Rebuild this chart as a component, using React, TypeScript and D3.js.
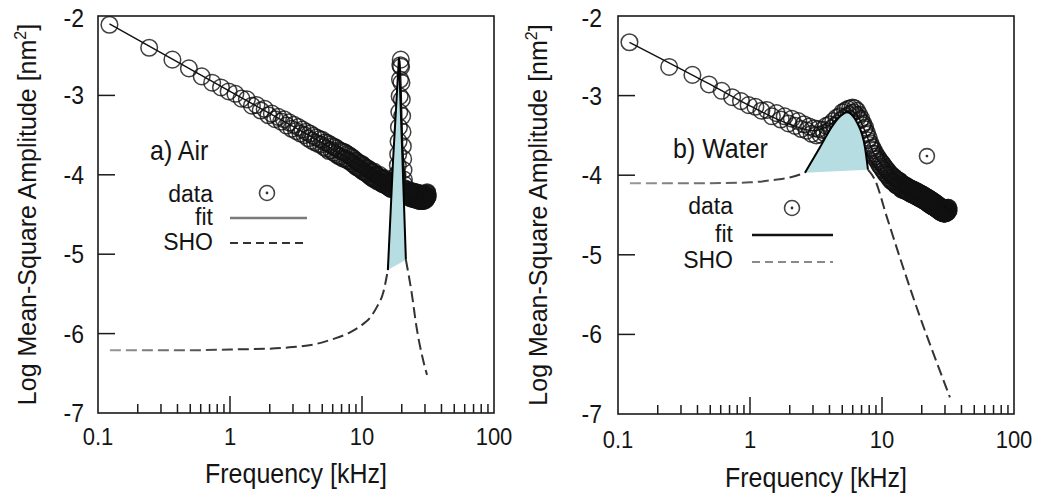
import React from 'react';
import * as d3 from 'd3';

// ---------- data ----------
const BIN_KHZ = 0.1221; // spectral bin width of the measured spectrum (kHz)

const AIR_VALUES = [
  -2.11, -2.40, -2.55, -2.66, -2.76, -2.84, -2.90, -2.95, -2.98, -3.04,
  -3.05, -3.13, -3.12, -3.19, -3.17, -3.25, -3.23, -3.30, -3.27, -3.33,
  -3.30, -3.38, -3.34, -3.42, -3.37, -3.45, -3.40, -3.48, -3.43, -3.50,
  -3.46, -3.54, -3.48, -3.57, -3.51, -3.59, -3.53, -3.61, -3.55, -3.62,
  -3.56, -3.65, -3.59, -3.67, -3.60, -3.70, -3.62, -3.69, -3.64, -3.72,
  -3.65, -3.74, -3.67, -3.76, -3.69, -3.77, -3.70, -3.79, -3.71, -3.80,
  -3.72, -3.80, -3.74, -3.82, -3.75, -3.83, -3.77, -3.85, -3.78, -3.86,
  -3.80, -3.88, -3.82, -3.90, -3.83, -3.91, -3.85, -3.92, -3.86, -3.93,
  -3.86, -3.95, -3.88, -3.96, -3.89, -3.97, -3.91, -3.98, -3.92, -3.99,
  -3.92, -4.00, -3.94, -4.02, -3.95, -4.03, -3.96, -4.04, -3.97, -4.05,
  -3.96, -4.05, -3.99, -4.06, -4.00, -4.08, -4.01, -4.07, -4.02, -4.09,
  -4.00, -4.09, -4.03, -4.10, -4.04, -4.11, -4.05, -4.12, -4.06, -4.11,
  -4.04, -4.12, -4.06, -4.13, -4.08, -4.14, -4.09, -4.15, -4.10, -4.15,
  -4.08, -4.16, -4.10, -4.17, -4.11, -4.18, -4.12, -4.17, -4.11, -4.18,
  -4.10, -4.16, -4.09, -4.15, -4.08, -4.14, -4.07, -4.12, -4.05, -4.09,
  -4.00, -3.99, -3.88, -3.74, -3.58, -3.40, -3.21, -3.01, -2.80, -2.62,
  -2.55, -2.64, -2.84, -3.05, -3.26, -3.46, -3.64, -3.80, -3.94, -4.06,
  -4.12, -4.18, -4.17, -4.22, -4.19, -4.24, -4.21, -4.26, -4.22, -4.27,
  -4.19, -4.26, -4.21, -4.28, -4.20, -4.27, -4.22, -4.29, -4.21, -4.28,
  -4.20, -4.27, -4.23, -4.30, -4.21, -4.28, -4.22, -4.30, -4.23, -4.29,
  -4.21, -4.28, -4.24, -4.31, -4.22, -4.29, -4.23, -4.31, -4.24, -4.30,
  -4.22, -4.29, -4.25, -4.32, -4.23, -4.30, -4.24, -4.32, -4.25, -4.31,
  -4.23, -4.30, -4.25, -4.33, -4.24, -4.31, -4.25, -4.33, -4.26, -4.32,
  -4.24, -4.31, -4.26, -4.33, -4.25, -4.32, -4.26, -4.33, -4.27, -4.32,
  -4.25, -4.31, -4.26, -4.32, -4.25, -4.31, -4.26, -4.32, -4.25, -4.30,
  -4.24, -4.30, -4.23, -4.29, -4.22, -4.28, -4.24, -4.27,
];

const WATER_VALUES = [
  -2.33, -2.64, -2.74, -2.86, -2.94, -3.02, -3.07, -3.12, -3.14, -3.19,
  -3.18, -3.26, -3.22, -3.30, -3.26, -3.35, -3.29, -3.38, -3.32, -3.42,
  -3.36, -3.44, -3.39, -3.48, -3.41, -3.50, -3.42, -3.49, -3.43, -3.47,
  -3.38, -3.45, -3.36, -3.41, -3.32, -3.38, -3.28, -3.35, -3.26, -3.31,
  -3.21, -3.28, -3.19, -3.26, -3.17, -3.24, -3.16, -3.22, -3.15, -3.21,
  -3.16, -3.24, -3.19, -3.27, -3.24, -3.31, -3.29, -3.37, -3.35, -3.42,
  -3.40, -3.49, -3.47, -3.56, -3.53, -3.62, -3.60, -3.67, -3.65, -3.73,
  -3.69, -3.77, -3.73, -3.80, -3.76, -3.83, -3.79, -3.87, -3.82, -3.89,
  -3.84, -3.92, -3.86, -3.94, -3.89, -3.97, -3.91, -3.99, -3.93, -4.00,
  -3.95, -4.03, -3.97, -4.05, -3.99, -4.07, -4.00, -4.08, -4.02, -4.09,
  -4.02, -4.10, -4.04, -4.12, -4.05, -4.13, -4.06, -4.13, -4.07, -4.14,
  -4.07, -4.15, -4.09, -4.17, -4.10, -4.18, -4.11, -4.18, -4.12, -4.19,
  -4.12, -4.19, -4.13, -4.20, -4.14, -4.20, -4.14, -4.21, -4.15, -4.21,
  -4.16, -4.22, -4.16, -4.23, -4.17, -4.23, -4.17, -4.24, -4.18, -4.24,
  -4.18, -4.25, -4.19, -4.25, -4.19, -4.26, -4.20, -4.26, -4.20, -4.27,
  -4.21, -4.27, -4.21, -4.28, -4.22, -4.28, -4.22, -4.29, -4.23, -4.29,
  -4.23, -4.30, -4.24, -4.30, -4.24, -4.31, -4.25, -4.31, -4.25, -4.32,
  -4.26, -4.32, -4.26, -4.33, -4.27, -4.33, -4.27, -4.34, -4.28, -4.34,
  -4.28, -4.35, -4.29, -4.36, -4.29, -4.36, -4.30, -4.37, -4.30, -4.37,
  -4.31, -4.38, -4.31, -4.38, -4.32, -4.39, -4.32, -4.39, -4.33, -4.39,
  -4.33, -4.40, -4.34, -4.40, -4.34, -4.41, -4.35, -4.41, -4.35, -4.42,
  -4.36, -4.42, -4.36, -4.43, -4.37, -4.43, -4.37, -4.44, -4.38, -4.44,
  -4.38, -4.45, -4.39, -4.45, -4.39, -4.46, -4.40, -4.46, -4.40, -4.46,
  -4.41, -4.47, -4.41, -4.47, -4.42, -4.47, -4.42, -4.48, -4.42, -4.48,
  -4.42, -4.48, -4.43, -4.48, -4.43, -4.48, -4.43, -4.48, -4.43, -4.47,
  -4.42, -4.47, -4.42, -4.47, -4.42, -4.46, -4.42, -4.46, -4.41, -4.45,
  -4.41, -4.44,
];

// fit curves [kHz, log MSA]
const AIR_FIT: [number, number][] = [
  [0.1221, -2.10], [1, -2.95], [5, -3.60], [10, -3.90], [15, -4.06], [17.5, -4.05],
  [18.6, -3.60], [19.4, -2.56], [20.3, -3.60], [21.6, -4.12], [24, -4.22], [31.5, -4.27],
];
const WATER_FIT: [number, number][] = [
  [0.1221, -2.33], [0.5, -2.86], [1, -3.13], [2, -3.36], [3, -3.44], [4, -3.37],
  [5, -3.24], [5.8, -3.19], [6.5, -3.25], [7.5, -3.46], [8.5, -3.70], [10, -3.88],
  [14, -4.13], [20, -4.27], [32, -4.43],
];

// SHO curves [kHz, log MSA]
const AIR_SHO: [number, number][] = [
  [0.123, -6.21], [0.5, -6.21], [1, -6.20], [2, -6.19], [3, -6.17], [4.5, -6.13],
  [6, -6.07], [8, -5.99], [10, -5.89], [11.5, -5.80], [13, -5.66], [14.5, -5.48],
  [15.7, -5.20], [17.2, -3.81], [19.06, -2.52], [21.5, -5.07], [23.8, -5.49],
  [25.9, -5.92], [29, -6.33], [31.1, -6.52],
];
const AIR_FILL_RANGE = [15.7, 21.5];

const WATER_SHO: [number, number][] = [
  [0.123, -4.10], [0.5, -4.10], [1, -4.09], [1.5, -4.06], [2, -4.03], [2.61, -3.97],
  [3.39, -3.65], [4.25, -3.37], [4.9, -3.25], [5.43, -3.21], [5.9, -3.24],
  [6.47, -3.34], [7.43, -3.65], [7.83, -3.93], [8.85, -4.06], [10.9, -4.53],
  [14.4, -5.15], [19.4, -5.78], [26.1, -6.36], [32.7, -6.79],
];
const WATER_FILL_RANGE = [2.61, 7.83];

const WATER_EXTRA_POINT: [number, number] = [21.9, -3.76];

const X_TICKS = [0.1, 1, 10, 100];
const X_TICK_LABELS = ['0.1', '1', '10', '100'];
const X_MINOR = [0.2, 0.3, 0.4, 0.5, 0.6, 0.7, 0.8, 0.9, 2, 3, 4, 5, 6, 7, 8, 9, 20, 30, 40, 50, 60, 70, 80, 90];
const Y_TICKS = [-2, -3, -4, -5, -6, -7];
const Y_TICK_LABELS = ['-2', '-3', '-4', '-5', '-6', '-7'];

const X_TITLE = 'Frequency [kHz]';
const LEGEND_LABELS = ['data', 'fit', 'SHO'];

// ---------- layout ----------
const FONT = '"Liberation Sans", Arial, Helvetica, sans-serif';
const TEXT = '#141414';
const FILL = '#b6dee2';

const PANELS = [
  {
    id: 'air', x0: 98, x1: 494, y0: 16, y1: 413,
    values: AIR_VALUES, fit: AIR_FIT, sho: AIR_SHO, fillRange: AIR_FILL_RANGE,
    solidCurve: d3.curveLinear,
    ytickX: 84, xtickY: 445, xtitleY: 483, ytitleX: 36,
    title: 'a) Air', titleX: 150, titleY: 160,
    legX: 213, legY: [202, 225, 250], markX: 267, markY: 193,
    lineX: [230, 307], lineY: [218, 243],
    fitLegendColor: '#7a7a7a', shoLegendColor: '#333',
    extra: null as null | [number, number],
  },
  {
    id: 'water', x0: 618, x1: 1014, y0: 16, y1: 414,
    values: WATER_VALUES, fit: WATER_FIT, sho: WATER_SHO, fillRange: WATER_FILL_RANGE,
    solidCurve: d3.curveMonotoneX,
    ytickX: 602, xtickY: 448, xtitleY: 487, ytitleX: 547,
    title: 'b) Water', titleX: 673, titleY: 158,
    legX: 733, legY: [214, 242, 268], markX: 792, markY: 208,
    lineX: [752, 833], lineY: [235, 262],
    fitLegendColor: '#111', shoLegendColor: '#8a8a8a',
    extra: WATER_EXTRA_POINT as null | [number, number],
  },
];

function Txt({ x, y, anchor = 'start', size = 23, sy = 1.1, children }: any) {
  return (
    <text transform={`translate(${x},${y}) scale(1,${sy})`} textAnchor={anchor}
      fontSize={size} fontFamily={FONT} fill={TEXT}>{children}</text>
  );
}

function Marker({ cx, cy }: { cx: number; cy: number }) {
  return (
    <g>
      <circle cx={cx} cy={cy} r={7.5} fill="none" stroke="#444" strokeWidth={1.6} />
      <circle cx={cx} cy={cy} r={1.4} fill="#333" />
    </g>
  );
}

function Panel({ p }: { p: typeof PANELS[number] }) {
  const x = d3.scaleLog().domain([0.1, 100]).range([p.x0, p.x1]);
  const y = d3.scaleLinear().domain([-7, -2]).range([p.y1, p.y0]);
  const pts = p.values.map((v, i) => [(i + 1) * BIN_KHZ, v] as [number, number]);

  const smooth = d3.line<[number, number]>().x(d => x(d[0])).y(d => y(d[1])).curve(d3.curveMonotoneX);
  const solid = d3.line<[number, number]>().x(d => x(d[0])).y(d => y(d[1])).curve(p.solidCurve);

  const [fa, fb] = p.fillRange;
  const mid = p.sho.filter(d => d[0] >= fa && d[0] <= fb);
  const left = p.sho.filter(d => d[0] <= fa);
  const right = p.sho.filter(d => d[0] >= fb);
  const gid = `grad-${p.id}`;
  const cx = (p.x0 + p.x1) / 2;
  const cy = (p.y0 + p.y1) / 2;

  return (
    <g>
      <defs>
        <linearGradient id={gid} gradientUnits="userSpaceOnUse" x1={x(0.12)} y1={0} x2={x(p.id === 'air' ? 1.2 : 2.5)} y2={0}>
          <stop offset="0" stopColor="#9a9a9a" />
          <stop offset="1" stopColor="#333" />
        </linearGradient>
      </defs>

      {/* fit */}
      <path d={smooth(p.fit) || ''} fill="none" stroke="#111" strokeWidth={1.4} />

      {/* data */}
      <g fill="none" stroke="#111" strokeWidth={1.5} strokeOpacity={0.8}>
        {pts.map((d, i) => <circle key={i} cx={x(d[0])} cy={y(d[1])} r={8.3} />)}
      </g>
      {p.extra && <Marker cx={x(p.extra[0])} cy={y(p.extra[1])} />}

      {/* SHO */}
      <path d={(solid(mid) || '') + 'Z'} fill={FILL} stroke="none" />
      <path d={solid(mid) || ''} fill="none" stroke="#000" strokeWidth={2} />
      <path d={smooth(left) || ''} fill="none" stroke={`url(#${gid})`} strokeWidth={2} strokeDasharray="11,5" />
      <path d={smooth(right) || ''} fill="none" stroke="#333" strokeWidth={2} strokeDasharray="11,5" />

      {/* frame & ticks */}
      <rect x={p.x0} y={p.y0} width={p.x1 - p.x0} height={p.y1 - p.y0} fill="none" stroke="#1a1a1a" strokeWidth={1.6} />
      <g stroke="#1a1a1a" strokeWidth={1.5}>
        {Y_TICKS.slice(1, -1).map(t => <line key={t} x1={p.x0} x2={p.x0 + 17} y1={y(t)} y2={y(t)} />)}
        {X_TICKS.slice(1, -1).map(t => <line key={t} x1={x(t)} x2={x(t)} y1={p.y1} y2={p.y1 - 17} />)}
        {X_MINOR.map(t => <line key={t} x1={x(t)} x2={x(t)} y1={p.y1} y2={p.y1 - 9} />)}
      </g>

      {/* tick labels */}
      {Y_TICKS.map((t, i) => (
        <Txt key={t} x={p.ytickX} y={y(t) + (t === -2 ? 11 : 9)} anchor="end" size={23}>{Y_TICK_LABELS[i]}</Txt>
      ))}
      {X_TICKS.map((t, i) => (
        <Txt key={t} x={x(t)} y={p.xtickY} anchor="middle" size={22}>{X_TICK_LABELS[i]}</Txt>
      ))}

      {/* axis titles */}
      <Txt x={cx} y={p.xtitleY} anchor="middle" size={25} sy={1.12}>{X_TITLE}</Txt>
      <text transform={`translate(${p.ytitleX},${cy}) rotate(-90)`} textAnchor="middle" fontSize={25} fontFamily={FONT} fill={TEXT}>
        Log Mean-Square Amplitude [nm<tspan dy={-10} fontSize={16}>2</tspan><tspan dy={10}>]</tspan>
      </text>

      {/* panel title and legend */}
      <Txt x={p.titleX} y={p.titleY} size={25}>{p.title}</Txt>
      {LEGEND_LABELS.map((l, i) => (
        <Txt key={l} x={p.legX} y={p.legY[i]} anchor="end" size={23} sy={1.05}>{l}</Txt>
      ))}
      <Marker cx={p.markX} cy={p.markY} />
      <line x1={p.lineX[0]} x2={p.lineX[1]} y1={p.lineY[0]} y2={p.lineY[0]} stroke={p.fitLegendColor} strokeWidth={2.5} />
      <line x1={p.lineX[0]} x2={p.lineX[1]} y1={p.lineY[1]} y2={p.lineY[1]} stroke={p.shoLegendColor} strokeWidth={2.2} strokeDasharray="8,5" />
    </g>
  );
}

export default function App() {
  return (
    <svg width={1039} height={496} style={{ position: 'absolute', left: 0, top: 0, background: '#fff' }}>
      <rect width={1039} height={496} fill="#fff" />
      {PANELS.map(p => <Panel key={p.id} p={p} />)}
    </svg>
  );
}
